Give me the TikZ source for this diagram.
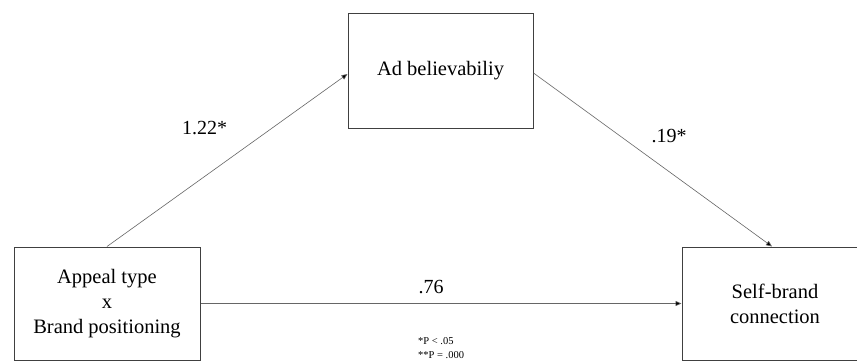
\documentclass[tikz,border=0pt]{standalone}
\usepackage{fontspec}
\setmainfont{Liberation Serif}
\usetikzlibrary{arrows.meta}
\begin{document}
\begin{tikzpicture}[x=1pt,y=-1pt,
  box/.style={draw=black!75,line width=1pt,inner sep=0pt,align=center,
    font=\fontsize{20.5}{25}\selectfont},
  arr/.style={draw=black!60,line width=0.6pt,-{Triangle[length=6pt,width=5pt,fill=black]}},
  lab/.style={inner sep=0pt,font=\fontsize{20}{24}\selectfont},
  note/.style={inner sep=0pt,align=left,font=\fontsize{10.5}{14}\selectfont}]
\useasboundingbox (0,0) rectangle (857,361);
\clip (0,0) rectangle (857,361);
\fill[white] (0,0) rectangle (857,361);
\node[box,minimum width=185pt,minimum height=114pt] (ab) at (440.5,71) {Ad believabiliy};
\node[box,minimum width=186pt,minimum height=113pt] (at) at (107,303.5) {Appeal type\\x\\Brand positioning};
\node[box,minimum width=186pt,minimum height=113pt] (sb) at (775,303.5) {Self-brand\\connection};
\draw[arr] (at.north) -- ([yshift=-3pt]ab.west);
\draw[arr] ([yshift=-2pt]ab.east) -- ([xshift=-3pt]sb.north);
\draw[arr] (at.east) -- (sb.west);
\node[lab] (l1) at (204.5,128) {1.22*};
\node[lab] (l2) at (669,136) {.19*};
\node[lab] (l3) at (431,287) {.76};
\node[note,anchor=north west] (fn) at (418,337) {*P < .05\\**P = .000};
\end{tikzpicture}
\end{document}
